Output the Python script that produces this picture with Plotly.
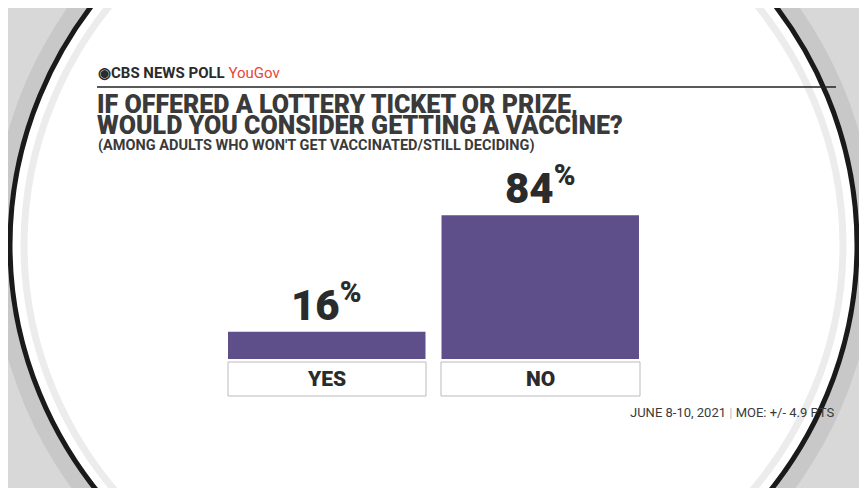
import plotly.graph_objects as go

categories = ["YES", "NO"]
values = [16, 84]
value_labels = ["16", "84"]
title_lines = ["IF OFFERED A LOTTERY TICKET OR PRIZE,",
               "WOULD YOU CONSIDER GETTING A VACCINE?"]

# plot area in reference pixels; the page body adds an 8px offset
L, R, T, B = 220, 647, 188, 359
OFF = 8


def px(x):
    return (x - L) / (R - L)


def py(y):
    return (B - y) / (B - T)


fig = go.Figure()
fig.add_trace(go.Bar(x=categories, y=values,
                     marker=dict(color="#5E4F8A", line=dict(width=0)),
                     hoverinfo="skip"))

shapes = [
    # background ring
    dict(type="circle", xref="paper", yref="paper", layer="below",
         x0=px(-8), x1=px(875), y0=py(-180), y1=py(670),
         fillcolor="#c8c8c8", line=dict(width=0)),
    dict(type="circle", xref="paper", yref="paper", layer="below",
         x0=px(10), x1=px(857), y0=py(-160), y1=py(650),
         fillcolor="#ffffff", line=dict(color="#1a1a1a", width=5)),
    dict(type="circle", xref="paper", yref="paper", layer="below",
         x0=px(24), x1=px(843), y0=py(-146), y1=py(636),
         fillcolor="#ffffff", line=dict(color="#ececec", width=7)),
    # header rule
    dict(type="line", xref="paper", yref="paper",
         x0=px(97), x1=px(836), y0=py(87), y1=py(87),
         line=dict(color="#222", width=1.5)),
]
# label boxes under bars
for x0, x1 in [(228, 426), (441, 640)]:
    shapes.append(dict(type="rect", xref="paper", yref="paper",
                       x0=px(x0), x1=px(x1), y0=py(362), y1=py(396),
                       fillcolor="white", line=dict(color="#bbb", width=1)))

annotations = []
for cat, v, lab in zip(categories, values, value_labels):
    annotations.append(dict(x=cat, y=v, xref="x", yref="y", yanchor="bottom",
                            xanchor="center", showarrow=False,
                            text=lab + "<sup>%</sup>",
                            font=dict(family="Roboto", size=42, color="#2b2b2b", weight=900)))
    annotations.append(dict(x=cat, y=py(379), xref="x", yref="paper",
                            yanchor="middle", xanchor="center",
                            showarrow=False, text=cat,
                            font=dict(family="Roboto", size=21, color="#2b2b2b", weight=900)))

for i, line in enumerate(title_lines):
    annotations.append(dict(x=px(95), y=py(104 + 21 * i), xref="paper", yref="paper",
                            xanchor="left", yanchor="middle", showarrow=False,
                            text=line,
                            font=dict(family="Roboto", size=25, color="#3a3a3a", weight=900)))

annotations += [
    dict(x=px(96), y=py(73), xref="paper", yref="paper", xanchor="left",
         yanchor="middle", showarrow=False,
         text="<b>◉CBS NEWS POLL</b> <span style='color:#e8463c'>YouGov</span>",
         font=dict(family="Roboto", size=15, color="#2b2b2b")),
    dict(x=px(96), y=py(145), xref="paper", yref="paper", xanchor="left",
         yanchor="middle", showarrow=False,
         text="(AMONG ADULTS WHO WON'T GET VACCINATED/STILL DECIDING)",
         font=dict(family="Roboto", size=14.5, color="#3a3a3a", weight=700)),
    dict(x=px(836), y=py(412), xref="paper", yref="paper", xanchor="right",
         yanchor="middle", showarrow=False,
         text="JUNE 8-10, 2021 <span style='color:#bbb'>|</span> MOE: +/- 4.9 PTS",
         font=dict(family="Roboto", size=13, color="#3a3a3a")),
]

fig.update_layout(width=867, height=488,
                  margin=dict(l=L - OFF, r=867 - R + OFF, t=T - OFF, b=488 - B + OFF),
                  paper_bgcolor="#d8d8d8", plot_bgcolor="rgba(0,0,0,0)",
                  bargap=0.075, showlegend=False,
                  shapes=shapes, annotations=annotations)
fig.update_xaxes(visible=False)
fig.update_yaxes(visible=False, range=[0, 100])

fig.write_html("out.html")
